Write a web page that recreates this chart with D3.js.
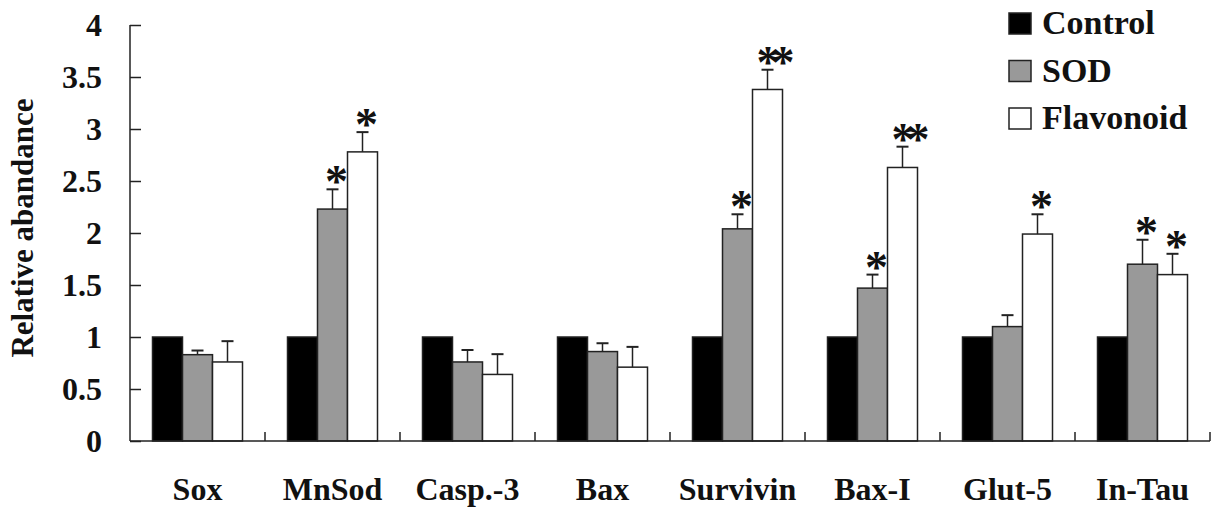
<!DOCTYPE html>
<html>
<head>
<meta charset="utf-8">
<script src="https://cdn.jsdelivr.net/npm/d3@7"></script>
<style>
  body { margin: 0; background: #fff; }
  svg { display: block; }
  text { font-family: "Times New Roman", "Liberation Serif", Times, "DejaVu Serif", serif; font-weight: bold; fill: #111; }
</style>
</head>
<body>
<div id="vis"></div>
<script>
var categories = ["Sox", "MnSod", "Casp.-3", "Bax", "Survivin", "Bax-I", "Glut-5", "In-Tau"];
var series = ["Control", "SOD", "Flavonoid"];
var control = [1, 1, 1, 1, 1, 1, 1, 1];
var sod = [0.83, 2.23, 0.76, 0.86, 2.04, 1.47, 1.10, 1.70];
var flavonoid = [0.76, 2.78, 0.64, 0.71, 3.38, 2.63, 1.99, 1.60];
var sodErr = [0.04, 0.19, 0.115, 0.08, 0.14, 0.13, 0.11, 0.235];
var flavErr = [0.20, 0.19, 0.195, 0.195, 0.19, 0.20, 0.19, 0.20];
var sodSig = ["", "*", "", "", "*", "*", "", "*"];
var flavSig = ["", "*", "", "", "**", "**", "*", "*"];
var yTicks = [0, 0.5, 1, 1.5, 2, 2.5, 3, 3.5, 4];

var width = 1216, height = 508;
var margin = {top: 25, right: 6, bottom: 67, left: 130};

var fills = {"Control": "#000000", "SOD": "#999999", "Flavonoid": "#ffffff"};

var svg = d3.select("#vis").append("svg")
  .attr("width", width)
  .attr("height", height);

var x = d3.scaleBand()
  .domain(categories)
  .range([margin.left, width - margin.right]);

var xSub = d3.scaleBand()
  .domain(series)
  .range([x.bandwidth() / 6, x.bandwidth() * 5 / 6]);

var y = d3.scaleLinear()
  .domain([0, 4])
  .range([height - margin.bottom, margin.top]);

// rows: one per bar
var rows = [];
categories.forEach(function(c, i) {
  rows.push({cat: c, s: "Control", v: control[i], err: 0, sig: ""});
  rows.push({cat: c, s: "SOD", v: sod[i], err: sodErr[i], sig: sodSig[i]});
  rows.push({cat: c, s: "Flavonoid", v: flavonoid[i], err: flavErr[i], sig: flavSig[i]});
});

// y axis, ticks pointing inward
var yAxis = svg.append("g")
  .attr("transform", "translate(" + margin.left + ",0)")
  .call(d3.axisRight(y).tickValues(yTicks).tickSize(11).tickFormat(""));
yAxis.select(".domain").attr("stroke", "#222").attr("stroke-width", 1.5).attr("d", "M0," + y(4) + "V" + y(0));
yAxis.selectAll(".tick line").attr("stroke", "#222").attr("stroke-width", 1.5);

svg.selectAll(".ylab")
  .data(yTicks).enter()
  .append("text")
  .attr("class", "ylab")
  .attr("x", 102)
  .attr("y", function(d) { return y(d); })
  .attr("dy", "0.35em")
  .attr("text-anchor", "end")
  .style("font-size", "32px")
  .text(function(d) { return d; });

svg.append("text")
  .attr("transform", "translate(33,228) rotate(-90)")
  .attr("text-anchor", "middle")
  .style("font-size", "31px")
  .text("Relative abandance");

// bars
svg.selectAll(".bar")
  .data(rows).enter()
  .append("rect")
  .attr("class", "bar")
  .attr("x", function(d) { return x(d.cat) + xSub(d.s); })
  .attr("y", function(d) { return y(d.v); })
  .attr("width", xSub.bandwidth())
  .attr("height", function(d) { return y(0) - y(d.v); })
  .attr("fill", function(d) { return fills[d.s]; })
  .attr("stroke", "#222")
  .attr("stroke-width", 1.5);

// error bars
var eb = rows.filter(function(d) { return d.err > 0; });
var cap = 6;
eb.forEach(function(d) {
  var cx = x(d.cat) + xSub(d.s) + xSub.bandwidth() / 2;
  svg.append("line")
    .attr("x1", cx).attr("x2", cx)
    .attr("y1", y(d.v)).attr("y2", y(d.v + d.err))
    .attr("stroke", "#222").attr("stroke-width", 1.5);
  svg.append("line")
    .attr("x1", cx - cap).attr("x2", cx + cap)
    .attr("y1", y(d.v + d.err)).attr("y2", y(d.v + d.err))
    .attr("stroke", "#222").attr("stroke-width", 2);
});

// significance stars
svg.selectAll(".sig")
  .data(rows.filter(function(d) { return d.sig; })).enter()
  .append("text")
  .attr("class", "sig")
  .attr("x", function(d) { return x(d.cat) + xSub(d.s) + xSub.bandwidth() / 2 + (d.sig.length > 1 ? 4 : 0); })
  .attr("y", function(d) { return y(d.v + d.err) + 8; })
  .attr("text-anchor", "middle")
  .style("font-size", "46px")
  .style("letter-spacing", "-8px")
  .text(function(d) { return d.sig; });

// x axis
var xAxis = svg.append("g")
  .attr("transform", "translate(0," + y(0) + ")");
xAxis.append("line")
  .attr("x1", margin.left).attr("x2", width - margin.right)
  .attr("stroke", "#222").attr("stroke-width", 1.5);
xAxis.selectAll(".xtick")
  .data(categories.slice(1).concat(["end"])).enter()
  .append("line")
  .attr("x1", function(d, i) { return margin.left + x.bandwidth() * (i + 1); })
  .attr("x2", function(d, i) { return margin.left + x.bandwidth() * (i + 1); })
  .attr("y1", 0).attr("y2", -9)
  .attr("stroke", "#222").attr("stroke-width", 1.5);

svg.selectAll(".xlab")
  .data(categories).enter()
  .append("text")
  .attr("class", "xlab")
  .attr("x", function(d) { return x(d) + x.bandwidth() / 2; })
  .attr("y", 500)
  .attr("text-anchor", "middle")
  .style("font-size", "32px")
  .text(function(d) { return d; });

// legend
var legend = svg.selectAll(".legend")
  .data(series).enter()
  .append("g")
  .attr("class", "legend")
  .attr("transform", function(d, i) { return "translate(1009," + (13 + i * 47.5) + ")"; });
legend.append("rect")
  .attr("width", 22).attr("height", 21)
  .attr("fill", function(d) { return fills[d]; })
  .attr("stroke", "#222").attr("stroke-width", 1.5);
legend.append("text")
  .attr("x", 33)
  .attr("y", 21)
  .style("font-size", "34px")
  .text(function(d) { return d; });
</script>
</body>
</html>
